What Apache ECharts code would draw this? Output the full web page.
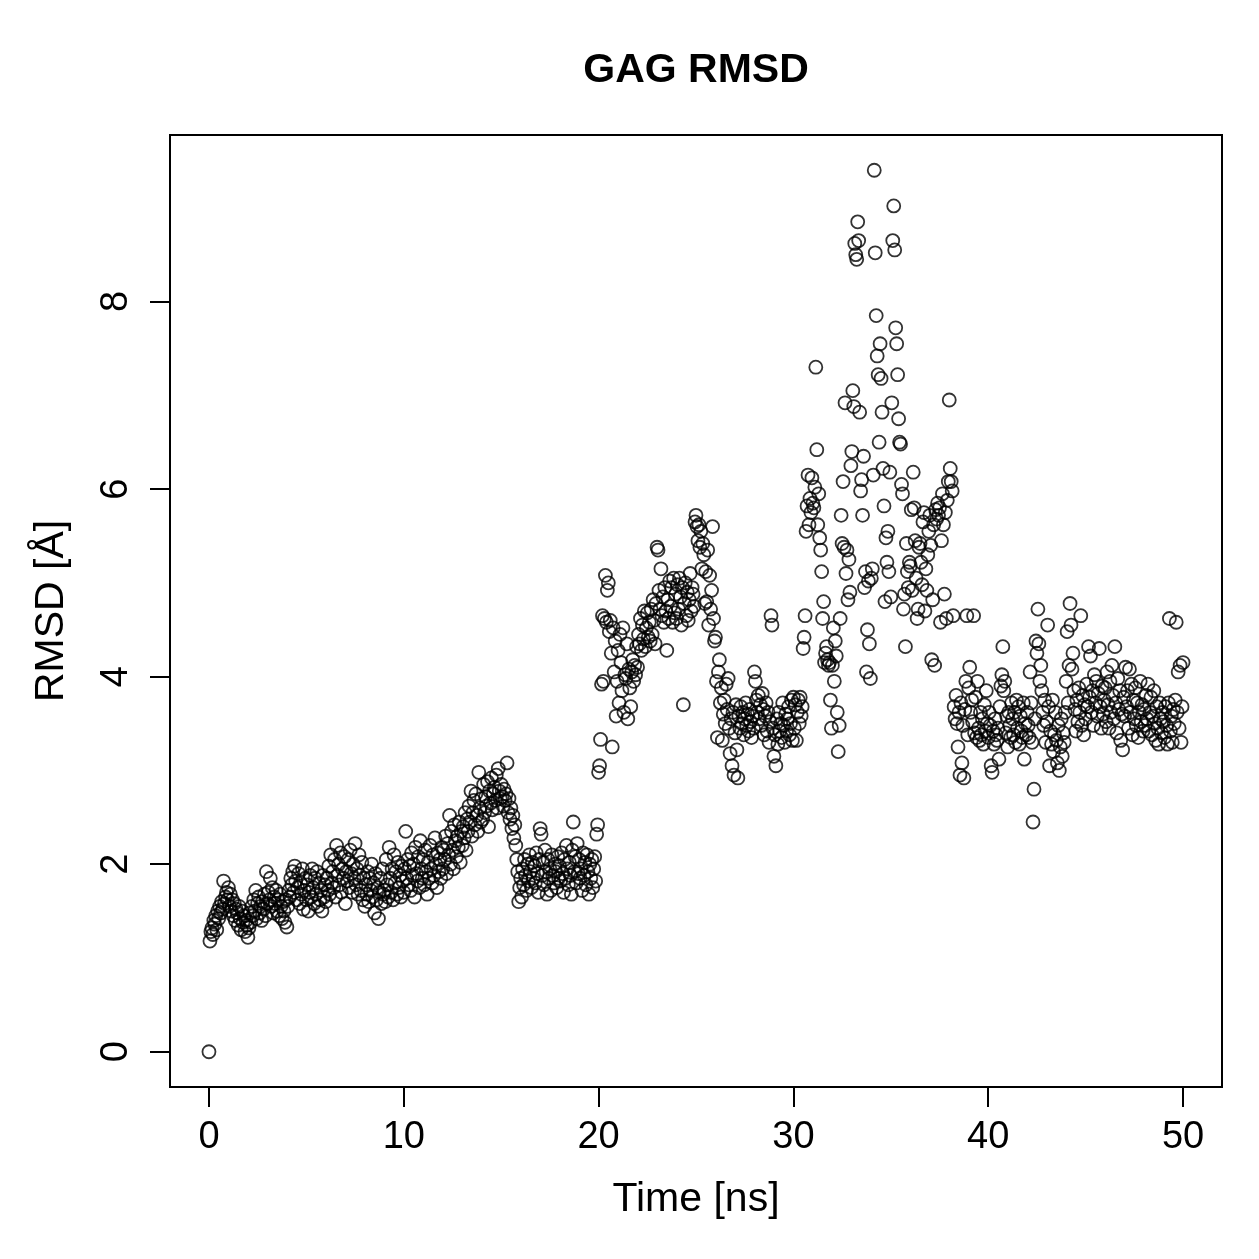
<!DOCTYPE html>
<html>
<head>
<meta charset="utf-8">
<script src="https://cdn.jsdelivr.net/npm/echarts@6/dist/echarts.min.js"></script>
<style>
  html, body { margin: 0; padding: 0; background: #fff; }
  #chart { width: 1259px; height: 1259px; }
</style>
</head>
<body>
<div id="chart"></div>
<script>
// sampling interval of the trajectory (ns)
const timeStep = 0.05;

// RMSD values, one row per ns
const rmsd0to5 = [
  0.00,1.18,1.28,1.32,1.25,1.40,1.36,1.45,1.30,1.50,1.42,1.55,1.48,1.60,1.52,1.82,1.58,1.65,1.70,1.62,
  1.75,1.55,1.68,1.50,1.62,1.45,1.58,1.40,1.52,1.48,1.35,1.55,1.42,1.30,1.50,1.38,1.45,1.28,1.40,1.35,
  1.22,1.32,1.48,1.38,1.55,1.45,1.62,1.50,1.72,1.42,1.58,1.65,1.48,1.55,1.40,1.60,1.52,1.68,1.45,1.92,
  1.58,1.70,1.62,1.85,1.55,1.75,1.48,1.65,1.58,1.72,1.50,1.62,1.45,1.68,1.55,1.42,1.60,1.50,1.38,1.62,
  1.33,1.55,1.72,1.65,1.85,1.78,1.92,1.70,1.98,1.82,1.62,1.75,1.90,1.58,1.80,1.68,1.95,1.52,1.72,1.85
];
const rmsd5to10 = [
  1.62,1.78,1.50,1.70,1.88,1.65,1.95,1.75,1.58,1.85,1.68,1.92,1.55,1.80,1.62,1.72,1.50,1.88,1.65,1.78,
  1.60,1.85,1.72,1.98,1.68,2.10,1.80,1.92,1.75,2.05,1.65,2.20,1.88,2.00,1.78,2.12,1.70,1.95,1.85,2.08,
  1.58,1.92,1.82,2.05,1.75,2.15,1.90,1.70,2.00,1.85,2.22,1.78,1.95,1.68,2.10,1.88,1.72,2.02,1.62,1.85,
  1.55,1.78,1.68,1.92,1.60,1.85,1.72,2.00,1.65,1.80,1.48,1.90,1.62,1.75,1.42,1.70,1.85,1.58,1.95,1.68,
  1.72,1.60,2.05,1.78,1.65,2.18,1.85,1.70,1.95,1.62,2.10,1.80,1.92,1.68,2.02,1.75,1.88,1.65,1.98,1.82
];
const rmsd10to15 = [
  1.70,1.95,2.35,1.85,2.05,1.78,1.98,1.72,2.12,1.88,2.00,1.65,2.18,1.90,1.82,2.08,1.75,2.25,1.95,1.85,
  2.05,1.78,2.15,1.92,1.68,2.02,1.85,2.20,1.95,1.80,2.10,1.88,2.28,2.00,1.75,2.12,1.92,2.05,1.85,2.18,
  1.95,2.15,2.05,2.30,1.90,2.22,2.10,2.52,2.00,2.35,2.15,1.95,2.42,2.25,2.08,2.30,2.18,2.45,2.02,2.35,
  2.20,2.40,2.28,2.55,2.15,2.48,2.35,2.62,2.45,2.78,2.30,2.55,2.68,2.42,2.75,2.52,2.35,2.98,2.60,2.45,
  2.70,2.48,2.85,2.55,2.72,2.62,2.88,2.40,2.78,2.65,2.92,2.58,2.75,2.82,2.68,2.95,2.60,3.02,2.78,2.70
];
const rmsd15to20 = [
  2.85,2.72,2.62,2.80,2.68,2.75,3.08,2.55,2.70,2.48,2.60,2.38,2.52,2.28,2.42,2.20,2.05,1.92,1.60,1.75,
  1.85,1.65,1.95,1.78,2.05,1.88,1.72,2.00,1.82,2.10,1.92,1.75,2.02,1.85,1.98,1.80,2.12,1.90,1.70,2.05,
  2.38,2.32,1.88,2.02,1.78,2.15,1.92,1.68,2.05,1.85,1.95,1.72,2.10,1.88,1.80,2.00,1.92,1.75,2.08,1.85,
  1.98,1.82,2.12,1.90,1.70,2.05,1.85,2.20,1.95,1.78,2.02,1.88,1.68,2.15,2.45,1.92,2.08,1.80,2.22,1.90,
  2.05,1.85,1.95,1.72,2.12,1.88,2.02,1.78,2.10,1.92,1.68,2.00,1.85,2.05,1.75,1.95,2.08,1.82,2.32,2.42
];
const rmsd20to25 = [
  2.98,3.05,3.33,3.92,4.65,3.95,4.62,5.08,4.58,4.92,5.00,4.48,4.60,4.25,3.25,4.52,4.05,4.38,3.58,3.95,
  4.28,3.72,4.45,4.15,3.85,4.52,3.62,4.02,3.98,4.35,3.55,4.08,3.88,3.68,4.05,4.18,3.95,4.12,4.02,4.32,
  4.10,4.45,4.35,4.62,4.28,4.55,4.40,4.70,4.32,4.52,4.68,4.42,4.58,4.38,4.72,4.45,4.82,4.60,4.35,4.78,
  5.38,5.35,4.92,4.72,5.15,4.65,4.85,4.58,4.95,4.70,4.28,4.82,4.62,5.02,4.75,4.95,4.58,5.05,4.68,4.88,
  4.62,4.98,4.72,5.05,4.85,4.55,4.95,3.70,4.78,5.00,4.65,4.90,4.60,4.82,5.10,4.70,4.95,4.88,4.75,5.65
];
const rmsd25to30 = [
  5.72,5.60,5.45,5.62,5.38,5.55,5.15,5.42,5.30,4.78,5.12,4.80,5.35,4.55,5.08,4.72,4.92,5.60,4.62,4.38,
  4.42,3.95,3.35,4.05,4.18,3.72,3.88,3.32,3.60,3.75,3.50,3.92,3.65,3.98,3.45,3.18,3.55,3.05,3.62,2.95,
  3.40,3.70,3.22,2.92,3.58,3.45,3.68,3.50,3.62,3.38,3.55,3.72,3.48,3.60,3.42,3.65,3.52,3.35,3.58,3.45,
  4.05,3.95,3.75,3.62,3.80,3.55,3.70,3.48,3.82,3.65,3.38,3.58,3.72,3.42,3.62,3.30,3.52,4.65,4.55,3.45,
  3.15,3.38,3.05,3.55,3.28,3.62,3.42,3.50,3.35,3.72,3.48,3.30,3.60,3.42,3.55,3.68,3.38,3.50,3.75,3.32
];
const rmsd30to35 = [
  3.78,3.45,3.70,3.32,3.62,3.75,3.50,3.78,3.58,3.68,4.30,4.42,4.65,5.55,5.82,6.15,5.62,5.90,5.75,6.12,
  5.85,5.80,6.02,7.30,6.42,5.62,5.95,5.48,5.35,5.12,4.62,4.80,4.15,4.25,4.32,4.18,4.12,4.15,3.75,3.45,
  4.12,4.52,3.95,4.38,4.22,3.62,3.20,3.48,4.62,5.72,5.42,6.08,5.38,6.92,5.10,5.35,4.82,5.25,4.90,6.25,
  6.40,7.05,6.88,8.62,8.50,8.45,8.85,8.65,6.82,5.98,6.10,5.72,6.35,4.95,5.12,4.05,4.50,5.02,4.35,3.98,
  5.05,5.15,6.15,9.40,8.52,7.85,7.42,7.22,6.50,7.55,7.18,6.82,6.22,5.82,4.80,5.48,5.22,5.55,5.12,6.18
];
const rmsd35to40 = [
  4.85,6.92,8.65,9.02,8.55,7.72,7.55,7.22,6.75,6.50,6.48,6.05,5.95,4.72,4.88,4.32,5.42,5.12,4.95,5.22,
  5.18,5.78,4.92,6.18,5.80,5.45,5.05,4.62,4.72,5.38,5.42,5.22,4.98,5.65,5.75,4.70,5.15,4.92,5.30,5.55,
  5.72,5.40,4.18,4.82,5.62,4.12,5.78,5.68,5.85,5.72,5.80,4.58,5.45,5.95,5.62,4.88,5.75,4.62,5.88,6.08,
  6.95,6.22,6.08,5.98,4.65,3.68,3.55,3.80,3.50,3.25,3.62,2.95,3.72,3.08,3.48,2.92,3.65,3.95,4.65,3.38,
  3.88,4.10,3.62,3.75,3.52,4.65,3.40,3.78,3.35,3.95,3.45,3.32,3.62,3.38,3.55,3.28,3.70,3.42,3.85,3.50
];
const rmsd40to45 = [
  3.35,3.62,3.48,3.05,2.98,3.42,3.28,3.55,3.38,3.32,3.45,3.12,3.68,3.90,4.02,4.32,3.85,3.95,3.40,3.58,
  3.25,3.62,3.48,3.35,3.72,3.55,3.38,3.62,3.30,3.75,3.45,3.68,3.28,3.58,3.42,3.35,3.72,3.12,3.50,3.38,
  3.62,3.48,3.35,4.05,3.72,3.30,2.45,2.80,3.55,4.38,4.25,4.72,4.35,3.95,4.12,3.85,3.62,3.48,3.75,3.30,
  3.52,4.55,3.68,3.05,3.42,3.28,3.75,3.20,3.38,3.62,3.32,3.08,3.48,3.00,3.25,3.55,3.15,3.40,3.30,3.62,
  3.95,4.48,3.72,4.12,4.78,4.55,4.08,4.25,3.85,3.65,3.42,3.75,3.52,3.88,3.62,4.65,3.48,3.80,3.38,3.70
];
const rmsd45to50 = [
  3.55,3.92,3.68,4.32,3.78,4.22,3.62,3.85,3.48,4.02,3.72,3.95,3.58,3.82,4.30,3.68,3.45,3.90,3.60,3.75,
  3.88,3.52,4.05,3.70,3.45,3.95,3.62,4.12,3.80,3.55,4.32,3.72,3.40,3.98,3.65,3.85,3.32,3.60,3.22,3.78,
  3.58,4.10,3.68,3.85,3.45,4.08,3.62,3.92,3.38,3.75,3.55,3.88,3.48,3.72,3.35,3.62,3.95,3.52,3.70,3.42,
  3.65,3.48,3.80,3.55,3.92,3.42,3.62,3.78,3.38,3.58,3.85,3.50,3.32,3.68,3.45,3.28,3.72,3.55,3.40,3.62,
  3.52,3.35,3.68,3.48,3.28,3.72,4.62,3.42,3.58,3.30,3.65,3.50,3.75,4.58,3.62,4.05,3.45,4.12,3.30,3.68,
  4.15
];

const xTicks = [0, 10, 20, 30, 40, 50];
const yTicks = [0, 2, 4, 6, 8];

const rmsd = [].concat(rmsd0to5, rmsd5to10, rmsd10to15, rmsd15to20, rmsd20to25,
  rmsd25to30, rmsd30to35, rmsd35to40, rmsd40to45, rmsd45to50);
const points = rmsd.map((v, i) => [+(i * timeStep).toFixed(2), v]);

const FONT = '"Liberation Sans", Arial, Helvetica, sans-serif';

const chart = echarts.init(document.getElementById('chart'), null, {renderer: 'canvas'});

const option = {
  backgroundColor: '#fff',
  animation: false,
  title: {
    text: 'GAG RMSD',
    left: 696,
    top: 50,
    padding: 0,
    textAlign: 'center',
    textStyle: {fontFamily: FONT, fontSize: 41, fontWeight: 'bold', color: '#000'}
  },
  grid: {
    left: 170,
    top: 135,
    right: 37,
    bottom: 172,
    show: true,
    borderColor: '#000',
    borderWidth: 2,
    backgroundColor: 'transparent'
  },
  xAxis: {
    type: 'value',
    min: -2,
    max: 52,
    name: 'Time [ns]',
    nameLocation: 'middle',
    nameGap: 92,
    nameTextStyle: {fontFamily: FONT, fontSize: 41, color: '#000'},
    axisLine: {show: false, onZero: false},
    axisTick: {
      show: true, inside: false, length: 20,
      lineStyle: {color: '#000', width: 2},
      customValues: xTicks
    },
    axisLabel: {
      fontFamily: FONT, fontSize: 38, color: '#000', margin: 32,
      customValues: xTicks
    },
    splitLine: {show: false}
  },
  yAxis: {
    type: 'value',
    min: -0.376,
    max: 9.776,
    name: 'RMSD [Å]',
    nameLocation: 'middle',
    nameGap: 98,
    nameRotate: 90,
    nameTextStyle: {fontFamily: FONT, fontSize: 41, color: '#000'},
    axisLine: {show: false, onZero: false},
    axisTick: {
      show: true, inside: false, length: 20,
      lineStyle: {color: '#000', width: 2},
      customValues: yTicks
    },
    axisLabel: {
      fontFamily: FONT, fontSize: 38, color: '#000', margin: 34, rotate: 90,
      customValues: yTicks
    },
    splitLine: {show: false}
  },
  series: [{
    type: 'scatter',
    data: points,
    symbol: 'circle',
    symbolSize: 13,
    itemStyle: {color: 'transparent', borderColor: '#000', borderWidth: 1.8},
    emphasis: {disabled: true}
  }]
};

chart.setOption(option);
</script>
</body>
</html>
